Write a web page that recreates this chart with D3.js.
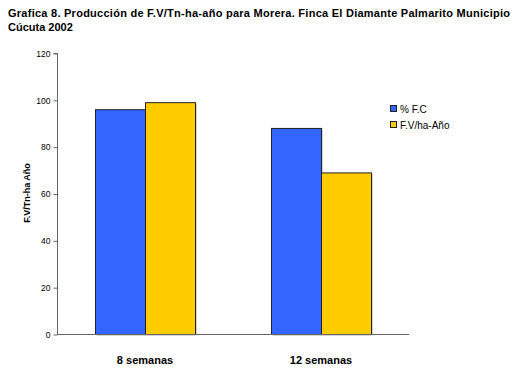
<!DOCTYPE html>
<html><head><meta charset="utf-8">
<script src="https://cdn.jsdelivr.net/npm/d3@7"></script>
<style>body{margin:0;background:#fff}svg{display:block}text{font-family:"Liberation Sans",Arial,sans-serif}</style>
</head><body><svg id="c" width="520" height="375"></svg>
<script>
const categories = ["8 semanas", "12 semanas"];
const seriesNames = ["% F.C", "F.V/ha-Año"];
const fcValues = [96, 88];
const fvValues = [99, 69];
const yTicks = [0, 20, 40, 60, 80, 100, 120];
const colors = ["#3366FF", "#FFCC00"];

(function(){
const svg = d3.select("#c");
const pL = 57, pR = 409, pT = 53, pB = 334;

svg.append("text").attr("x", 8).attr("y", 17).attr("font-size", 11).attr("font-weight", "bold")
  .attr("textLength", 502).attr("lengthAdjust", "spacing")
  .text("Grafica 8. Producción de F.V/Tn-ha-año para Morera. Finca El Diamante Palmarito Municipio");
svg.append("text").attr("x", 8).attr("y", 31).attr("font-size", 11).attr("font-weight", "bold")
  .text("Cúcuta 2002");

const x0 = d3.scaleBand().domain(categories).range([pL, pR]).paddingInner(0).paddingOuter(0);
const x1 = d3.scaleBand().domain(seriesNames).range([0, 100]);
const y = d3.scaleLinear().domain([0, 120]).range([pB, pT]);

const data = categories.map((c, i) => ({cat: c, vals: [fcValues[i], fvValues[i]]}));
const g = svg.append("g");
data.forEach(d => {
  const cx = x0(d.cat) + x0.bandwidth() / 2 - 50;
  d.vals.forEach((v, j) => {
    g.append("rect").attr("x", cx + x1(seriesNames[j]) + 1.5).attr("y", y(v) + 1.5)
      .attr("width", x1.bandwidth()).attr("height", pB - y(v))
      .attr("fill", "#aaa");
  });
  d.vals.forEach((v, j) => {
    g.append("rect").attr("x", cx + x1(seriesNames[j]) + 0.5).attr("y", y(v) + 0.5)
      .attr("width", x1.bandwidth()).attr("height", pB - y(v))
      .attr("fill", colors[j]).attr("stroke", "#222").attr("stroke-width", 1);
  });
});

const ya = svg.append("g").attr("transform", `translate(${pL + 0.5},0.5)`)
  .call(d3.axisLeft(y).tickValues(yTicks).tickSize(4).tickPadding(3));
ya.selectAll("path,line").attr("stroke", "#666");
ya.selectAll("text").attr("font-size", 8.5).attr("fill", "#000").style("font-family", "'Liberation Sans',Arial,sans-serif");
ya.select(".domain").attr("d", `M-4,${pT}H0V${pB}`);

svg.append("line").attr("x1", pL).attr("x2", pR).attr("y1", pB + 0.5).attr("y2", pB + 0.5)
  .attr("stroke", "#666");

categories.forEach(c => {
  svg.append("text").attr("x", x0(c) + x0.bandwidth() / 2).attr("y", 364)
    .attr("text-anchor", "middle").attr("font-size", 11).attr("font-weight", "bold").text(c);
});

svg.append("text").attr("transform", "translate(30,193) rotate(-90)")
  .attr("text-anchor", "middle").attr("font-size", 9).attr("font-weight", "bold").text("F.V/Tn-ha Año");

seriesNames.forEach((s, i) => {
  const ly = 105 + i * 16;
  svg.append("rect").attr("x", 390.5).attr("y", ly + 0.5).attr("width", 6).attr("height", 6)
    .attr("fill", colors[i]).attr("stroke", "#222");
  svg.append("text").attr("x", 400).attr("y", ly + 7.5).attr("font-size", 10).text(s);
});
})();
</script></body></html>
